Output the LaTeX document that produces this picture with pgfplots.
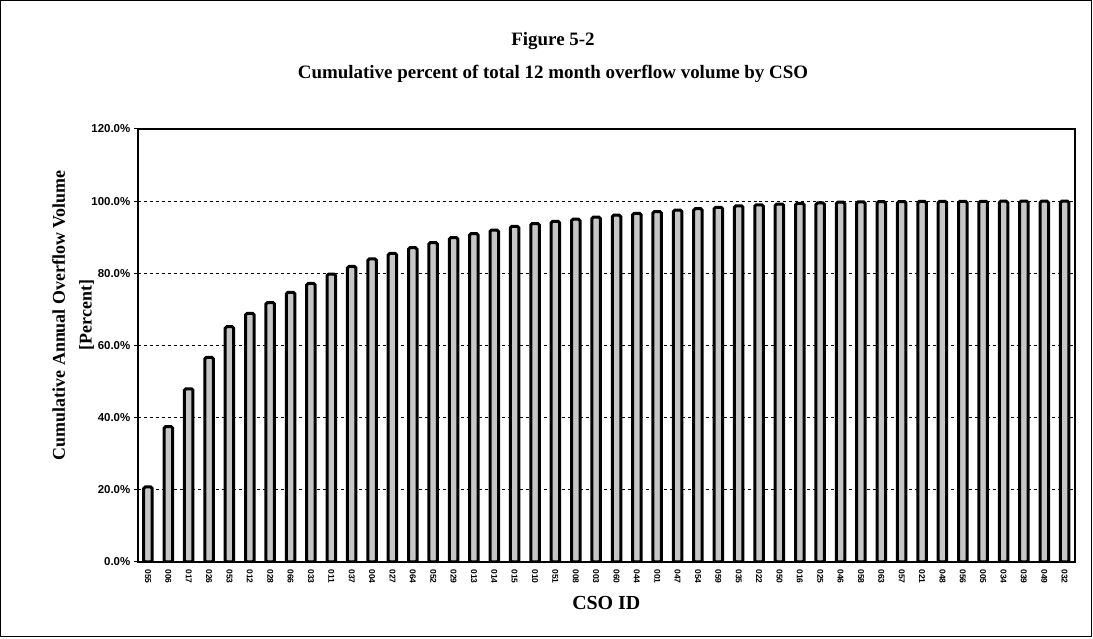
\documentclass[border=0pt]{standalone}
\usepackage{fontspec}
\setmainfont{Liberation Serif}
\newfontfamily\tickfont{Liberation Sans}
\usepackage{pgfplots}
\pgfplotsset{compat=1.18}

\begin{document}
\begin{tikzpicture}[x=1bp,y=1bp]
% page = 1093 x 639 px, axis origin at px (148,562)
\useasboundingbox (-148,-77) rectangle (945,562);
\draw[line width=1bp] (-147,-75) rectangle (943,561);
\node[font=\bfseries\fontsize{19}{22}\selectfont] at (405,521) {Figure 5-2};
\node[font=\bfseries\fontsize{19}{22}\selectfont] at (405,488) {Cumulative percent of total 12 month overflow volume by CSO};
\begin{axis}[
    at={(0,0)}, anchor=origin,
    scale only axis,
    width=937bp, height=433bp,
    ybar, bar width=8.5bp,
    xmin=-0.5, xmax=45.5,
    ymin=0, ymax=120,
    axis line style={line width=2.5bp},
    xtick=data,
    xticklabels={055,006,017,026,053,012,028,066,033,011,037,004,027,064,052,029,013,014,015,010,051,008,003,060,044,001,047,054,059,035,022,050,016,025,046,058,063,057,021,048,056,005,034,039,049,032},
    x tick label style={rotate=-90, anchor=west, font=\tickfont\bfseries\fontsize{8.5}{8.5}\selectfont},
    xtick pos=bottom, ytick pos=left,
    xtick style={draw=none},
    minor x tick num=1,
    minor tick length=4bp,
    minor x tick style={line width=1bp, black},
    ytick={0,20,40,60,80,100,120},
    yticklabels={0.0\%,20.0\%,40.0\%,60.0\%,80.0\%,100.0\%,120.0\%},
    y tick label style={font=\tickfont\bfseries\fontsize{11.5}{12}\selectfont},
    tick align=outside, major tick length=4bp,
    ytick style={line width=1bp, black},
    ymajorgrids, grid style={dashed, black, line width=0.8bp},
    xlabel={CSO ID},
    xlabel style={font=\bfseries\fontsize{20}{22}\selectfont, at={(axis description cs:0.5,-0.095)}, anchor=center},
    ylabel={Cumulative Annual Overflow Volume\\\relax [Percent]},
    ylabel style={font=\bfseries\fontsize{18}{27}\selectfont, align=center, at={(axis description cs:-0.069,0.57)}, anchor=center},
]
\addplot[fill=gray!45, draw=black, line width=3bp, rounded corners=1.5bp] coordinates {
 (0,20.8) (1,37.5) (2,48.0) (3,56.7) (4,65.2) (5,68.9) (6,71.9) (7,74.7) (8,77.2) (9,79.8)
 (10,81.9) (11,84.0) (12,85.5) (13,87.1) (14,88.5) (15,89.9) (16,91.0) (17,92.0) (18,93.0) (19,93.8)
 (20,94.4) (21,95.0) (22,95.6) (23,96.1) (24,96.6) (25,97.1) (26,97.5) (27,97.9) (28,98.3) (29,98.7)
 (30,99.0) (31,99.2) (32,99.4) (33,99.5) (34,99.7) (35,99.8) (36,99.85) (37,99.9) (38,99.92) (39,99.95)
 (40,99.96) (41,99.97) (42,99.98) (43,99.99) (44,100) (45,100)
};
\end{axis}
\end{tikzpicture}
\end{document}
